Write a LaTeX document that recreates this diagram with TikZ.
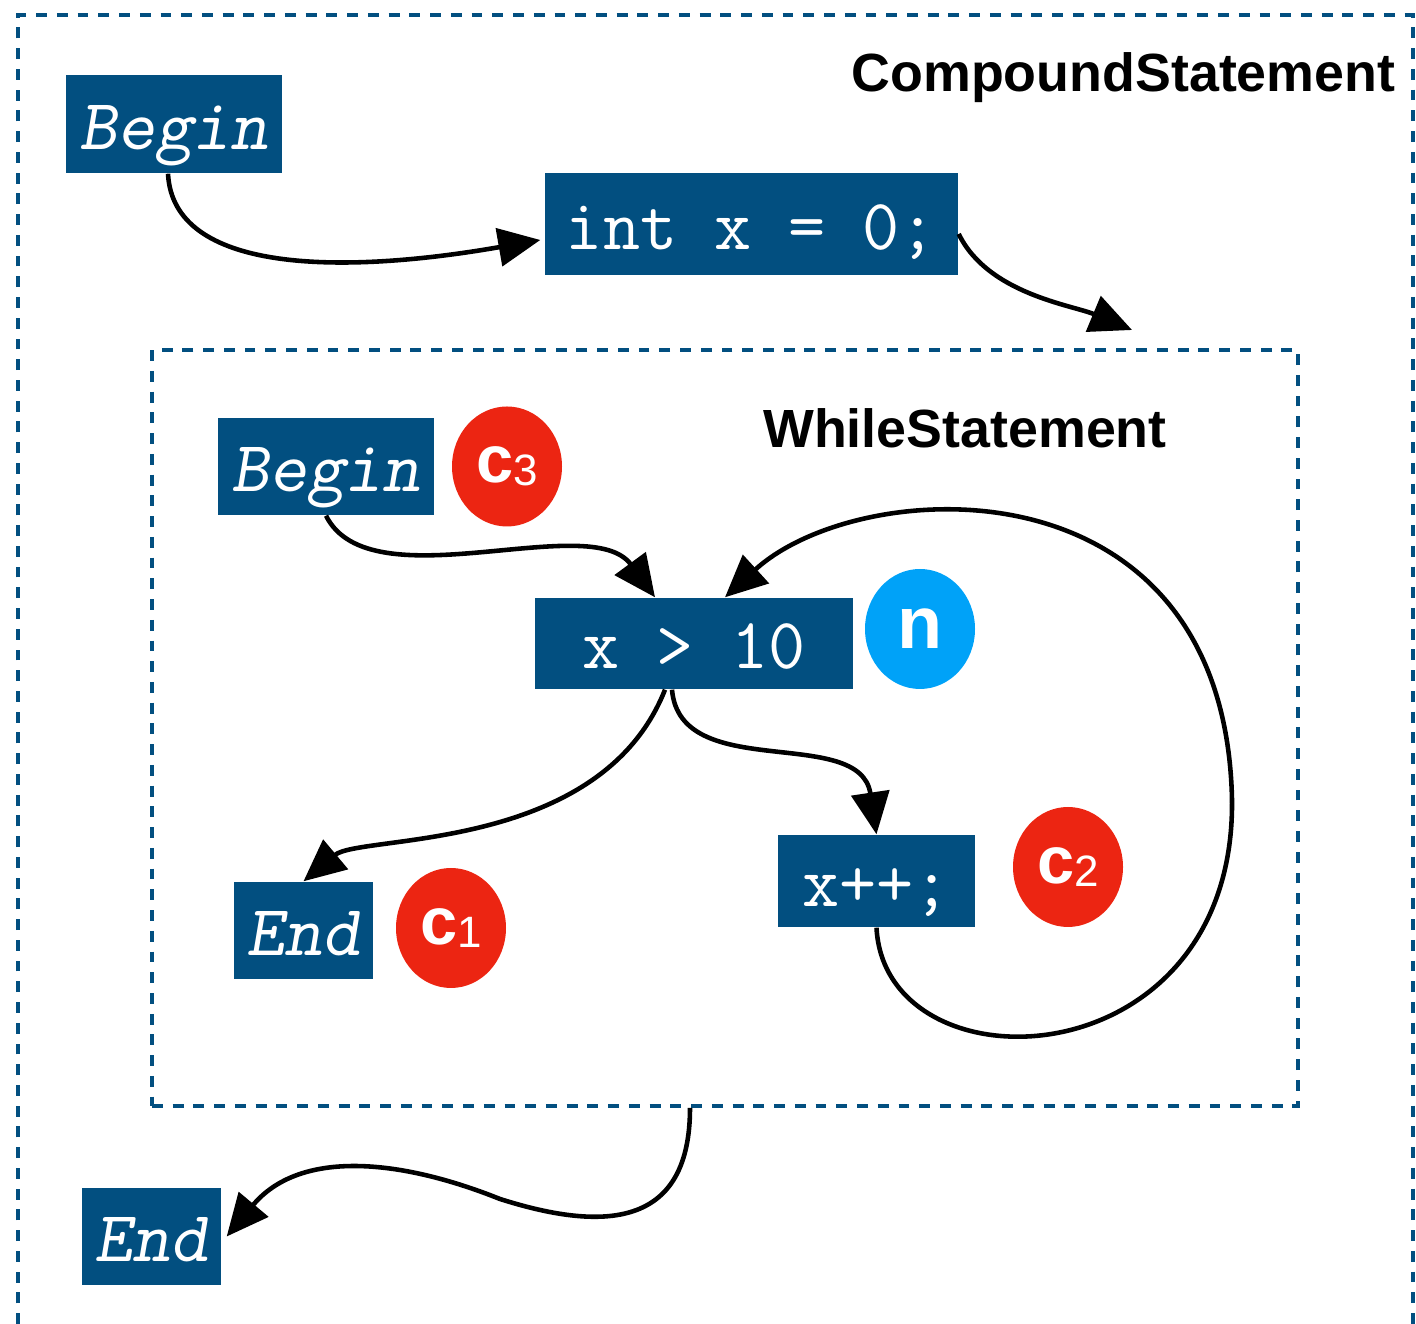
\documentclass[tikz,border=0pt]{standalone}
\usepackage{fontspec}
\setmainfont{Liberation Sans}
\usepackage{tikz}
\usetikzlibrary{shapes.geometric, arrows.meta, calc}

\definecolor{boxblue}{RGB}{2,79,128}
\definecolor{cred}{RGB}{236,37,18}
\definecolor{nblue}{RGB}{0,162,248}

\begin{document}
\begin{tikzpicture}[x=0.1mm, y=0.1mm, node distance=2cm]
%
% Sketch: CompoundStatement { Begin -> int x = 0; -> WhileStatement -> End }
%         WhileStatement { Begin -> x > 10 -> x++; -> back, x > 10 -> End }
%
\tikzstyle{stmt} = [rectangle, fill=boxblue, text=white, inner sep=0pt, text height=5.1mm, text depth=0pt, font=\fontsize{20.5}{22}\selectfont\ttfamily]
\tikzstyle{marker} = [stmt, font=\fontsize{20.5}{22}\selectfont\ttfamily\slshape]
\tikzstyle{cnode} = [ellipse, minimum width=11mm, minimum height=12mm, inner sep=0pt, fill=cred, text=white, font=\fontsize{19}{20}\selectfont\bfseries]
\tikzstyle{frame} = [draw=boxblue, line width=1.1pt, dash pattern=on 3.1pt off 2.8pt]
\tikzstyle{title} = [inner sep=0pt, font=\fontsize{15.3}{18}\selectfont\bfseries]
\tikzstyle{arrow} = [line width=1.3pt, ->, >={Triangle[length=4.2mm, width=3.8mm]}]
\newcommand{\sub}[1]{\raisebox{-1pt}{\fontsize{12.5}{13}\selectfont\mdseries #1}}
\useasboundingbox (0,0) rectangle (1416,1324);
% Frames
\draw [frame] (18,0) -- (18,1309) -- (1413,1309) -- (1413,0);
\node (whilebox) [frame, rectangle, minimum width=114.6mm, minimum height=75.6mm] at (725,596) {};
\node (compound) [title, anchor=east] at (1396,1246) {CompoundStatement};
\node (whilelbl) [title] at (965,896) {WhileStatement};
% Nodes
\node (begA) [marker, minimum width=21.6mm, minimum height=9.8mm] at (174,1200) {Begin};
\node (intx) [stmt, minimum width=41.3mm, minimum height=10.2mm] at (751.5,1100) {int x = 0;};
\node (begB) [marker, minimum width=21.6mm, minimum height=9.7mm] at (326,857.5) {Begin};
\node (cthree) [cnode, right of=begB, xshift=-1.9mm] {c\sub{3}};
\node (cond) [stmt, minimum width=31.8mm, minimum height=9.1mm] at (694,680.5) {x > 10};
\node (nn) [cnode, fill=nblue, font=\fontsize{21}{22}\selectfont\bfseries, right of=cond, xshift=2.6mm, yshift=1.45mm] {n};
\node (xpp) [stmt, minimum width=19.7mm, minimum height=9.2mm] at (876.5,443) {x++;};
\node (ctwo) [cnode, right of=xpp, xshift=-0.85mm, yshift=1.4mm] {c\sub{2}};
\node (endB) [marker, minimum width=13.9mm, minimum height=9.7mm] at (303.5,393.5) {End};
\node (cone) [cnode, right of=endB, xshift=-5.25mm, yshift=0.25mm] {c\sub{1}};
\node (endA) [marker, minimum width=13.9mm, minimum height=9.7mm] at (151.5,87.5) {End};
\coordinate (wtop) at (1132,994);
% Arrows
\draw [arrow] ($(begA.south)+(-6,0)$) .. controls (173,1051) and (340,1049) .. ($(intx.west)+(-4,-16)$);
\draw [arrow] ($(intx.east)+(0,-10)$) .. controls (988,1030) and (1072,1019) .. (wtop);
\draw [arrow] (begB.south) .. controls (370,720) and (590,815) .. ($(cond.north)+(-39,0)$);
\draw [arrow] (xpp.south) .. controls (885,230) and (1235,240) .. (1232,524)
   .. controls (1225,870) and (860,850) .. ($(cond.north)+(31,0)$);
\draw [arrow] ($(cond.south)+(-29,0)$) .. controls (600,470) and (360,490) .. (endB.north);
\draw [arrow] ($(cond.south)+(-22,0)$) .. controls (680,540) and (860,600) .. (xpp.north);
\draw [arrow] ($(whilebox.south)+(-35,0)$) .. controls (690,100) and (610,90) .. (500,125)
   .. controls (400,165) and (300,175) .. ($(endA.east)+(5,0)$);
\end{tikzpicture}
\end{document}
